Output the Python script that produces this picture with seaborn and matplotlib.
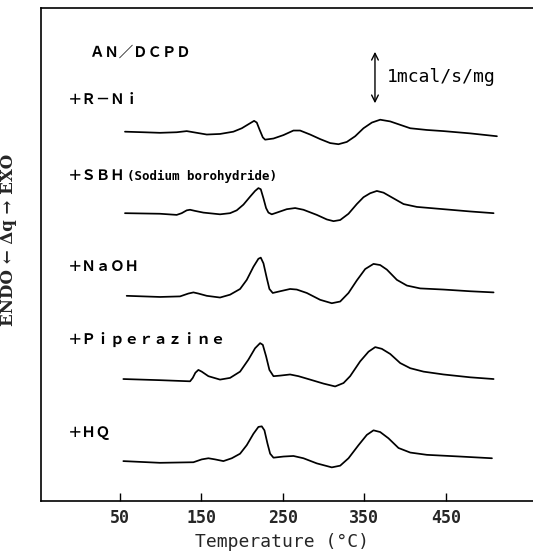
import matplotlib
matplotlib.use("Agg")
import matplotlib.pyplot as plt
import seaborn as sns
import pandas as pd

# ---- data (temperature in °C, heat flow relative to each trace baseline, mcal/s/mg)
t_rni = [56.1, 78.7, 99.1, 119.6, 131.9, 144.2, 156.5, 172.8, 189.2, 199.5, 207.6, 214.6,
         217.9, 221.2, 225.3, 228.1, 238.4, 250.6, 262.9, 271.1, 283.4, 295.7, 308.0, 318.2,
         328.4, 338.7, 348.9, 359.2, 369.4, 381.7, 394.0, 406.3, 426.7, 447.2, 480.0, 512.7]
q_rni = [0.00, -0.01, -0.02, -0.01, 0.01, -0.02, -0.05, -0.04, 0.00, 0.06, 0.13, 0.19,
         0.16, 0.04, -0.10, -0.14, -0.12, -0.06, 0.02, 0.02, -0.05, -0.13, -0.20, -0.22,
         -0.18, -0.08, 0.06, 0.16, 0.21, 0.18, 0.12, 0.06, 0.03, 0.01, -0.03, -0.08]

t_sbh = [56.1, 99.1, 119.6, 125.7, 131.9, 136.0, 142.1, 152.4, 172.8, 185.1, 193.3, 201.5,
         209.7, 215.8, 219.9, 222.8, 226.1, 229.3, 232.2, 236.3, 242.5, 254.7, 265.0, 275.2,
         291.6, 303.9, 312.1, 320.3, 330.5, 340.7, 348.9, 357.1, 365.3, 373.5, 385.8, 398.1,
         414.4, 447.2, 480.0, 508.6]
q_sbh = [0.00, -0.01, -0.03, 0.00, 0.05, 0.06, 0.04, 0.01, -0.02, 0.00, 0.05, 0.15,
         0.29, 0.39, 0.44, 0.42, 0.26, 0.09, 0.01, -0.02, 0.01, 0.07, 0.09, 0.06,
         -0.03, -0.11, -0.14, -0.12, -0.01, 0.16, 0.28, 0.35, 0.39, 0.36, 0.26, 0.16,
         0.11, 0.07, 0.03, 0.00]

t_naoh = [58.2, 99.1, 123.7, 133.9, 140.1, 146.2, 156.5, 172.8, 185.1, 197.4, 205.6, 213.8,
          219.9, 222.8, 226.1, 230.2, 233.4, 237.5, 246.5, 258.8, 267.0, 279.3, 295.7, 310.0,
          320.3, 330.5, 340.7, 351.0, 361.2, 369.4, 377.6, 389.9, 402.2, 418.5, 447.2, 480.0,
          508.6]
q_naoh = [0.00, -0.02, -0.01, 0.04, 0.06, 0.04, 0.00, -0.03, 0.02, 0.12, 0.28, 0.51,
          0.65, 0.67, 0.57, 0.31, 0.12, 0.05, 0.08, 0.12, 0.11, 0.05, -0.07, -0.13,
          -0.10, 0.05, 0.27, 0.47, 0.56, 0.54, 0.46, 0.28, 0.18, 0.13, 0.11, 0.08,
          0.06]

t_pip = [54.1, 99.1, 136.0, 139.3, 142.5, 146.2, 150.3, 158.5, 172.8, 185.1, 197.4, 207.6,
         215.8, 222.0, 225.3, 229.3, 233.4, 238.4, 246.5, 258.8, 269.1, 283.4, 299.8, 314.1,
         324.4, 332.5, 344.8, 355.1, 363.3, 371.4, 381.7, 394.0, 406.3, 422.6, 447.2, 480.0,
         508.6]
q_pip = [0.00, -0.02, -0.04, 0.02, 0.11, 0.16, 0.13, 0.05, -0.01, 0.02, 0.13, 0.34,
         0.54, 0.63, 0.60, 0.40, 0.16, 0.05, 0.06, 0.08, 0.05, -0.01, -0.08, -0.13,
         -0.07, 0.05, 0.31, 0.48, 0.56, 0.53, 0.44, 0.28, 0.19, 0.13, 0.08, 0.03,
         0.00]

t_hq = [54.1, 99.1, 140.1, 150.3, 158.5, 166.7, 176.9, 187.2, 197.4, 205.6, 213.8, 219.9,
        224.0, 227.3, 231.0, 234.3, 238.4, 250.6, 262.9, 275.2, 291.6, 310.0, 320.3, 330.5,
        342.8, 353.0, 361.2, 369.4, 379.6, 391.9, 406.3, 426.7, 467.7, 506.6]
q_hq = [0.00, -0.03, -0.02, 0.03, 0.05, 0.03, 0.00, 0.05, 0.13, 0.28, 0.48, 0.60,
        0.61, 0.54, 0.31, 0.13, 0.06, 0.08, 0.09, 0.05, -0.04, -0.11, -0.08, 0.05,
        0.28, 0.46, 0.54, 0.51, 0.40, 0.23, 0.15, 0.11, 0.08, 0.05]

labels = ["＋Ｒ－Ｎｉ", "＋ＳＢＨ", "＋ＮａＯＨ", "＋Ｐｉｐｅｒａｚｉｎｅ", "＋ＨＱ"]
offsets = [6.48, 5.05, 3.60, 2.14, 0.70]
label_y = [7.04, 5.70, 4.11, 2.84, 1.19]
x_ticks = [50, 150, 250, 350, 450]

temps = [t_rni, t_sbh, t_naoh, t_pip, t_hq]
flows = [q_rni, q_sbh, q_naoh, q_pip, q_hq]

rows = []
for lab, t, q, off in zip(labels, temps, flows, offsets):
    for ti, qi in zip(t, q):
        rows.append({"sample": lab, "T": ti, "y": qi + off})
df = pd.DataFrame(rows)

sns.set_theme(style="white")
plt.rcParams["font.family"] = ["DejaVu Sans Mono", "DejaVu Sans"]

fig = plt.figure(figsize=(5.33, 5.52), dpi=100)
ax = fig.add_axes([41 / 533, 51 / 552, 492 / 533, 493 / 552])

for lab in labels:
    sub = df[df["sample"] == lab]
    sns.lineplot(data=sub, x="T", y="y", color="black", linewidth=1.25,
                 sort=False, estimator=None, ax=ax, legend=False)

ax.set_xlim(-47, 557)
ax.set_ylim(0, 8.65)
ax.set_xticks(x_ticks)
ax.set_xticklabels([str(v) for v in x_ticks], fontsize=12, fontweight="bold",
                   family="DejaVu Sans Mono")
ax.set_yticks([])
ax.tick_params(axis="x", direction="in", length=6, width=1.0, color="black", pad=6,
               bottom=True)

for s in ["left", "bottom", "top"]:
    ax.spines[s].set_visible(True)
    ax.spines[s].set_color("black")
    ax.spines[s].set_linewidth(1.2)
ax.spines["right"].set_visible(False)

ax.set_xlabel("Temperature (°C)", fontsize=13, family="DejaVu Sans Mono", labelpad=4)
ax.xaxis.set_label_coords((282 - 41) / 492, -0.065)
ax.set_ylabel("ENDO ← Δq → EXO", fontsize=12, fontweight="bold", family="DejaVu Serif",
              labelpad=8)
ax.yaxis.set_label_coords(-0.048, 0.53)

cjk = ["Noto Sans CJK JP", "DejaVu Sans"]
ax.text(13, 7.86, "ＡＮ／ＤＣＰＤ", fontsize=10.4, fontweight="bold", family=cjk,
        va="center", ha="left", color="black")
for lab, ly in zip(labels, label_y):
    ax.text(-14, ly, lab, fontsize=10.4, fontweight="bold", family=cjk,
            va="center", ha="left", color="black")
ax.text(58, 5.70, "(Sodium borohydride)", fontsize=9, fontweight="bold",
        family="DejaVu Sans Mono", va="center", ha="left", color="black")

# scale bar
ax.annotate("", xy=(363, 6.93), xytext=(363, 7.93),
            arrowprops=dict(arrowstyle="<->", color="black", lw=1.0))
ax.text(378, 7.44, "1mcal/s/mg", fontsize=13, family="DejaVu Sans Mono",
        va="center", ha="left", color="black")

fig.savefig("out.png", dpi=100)
